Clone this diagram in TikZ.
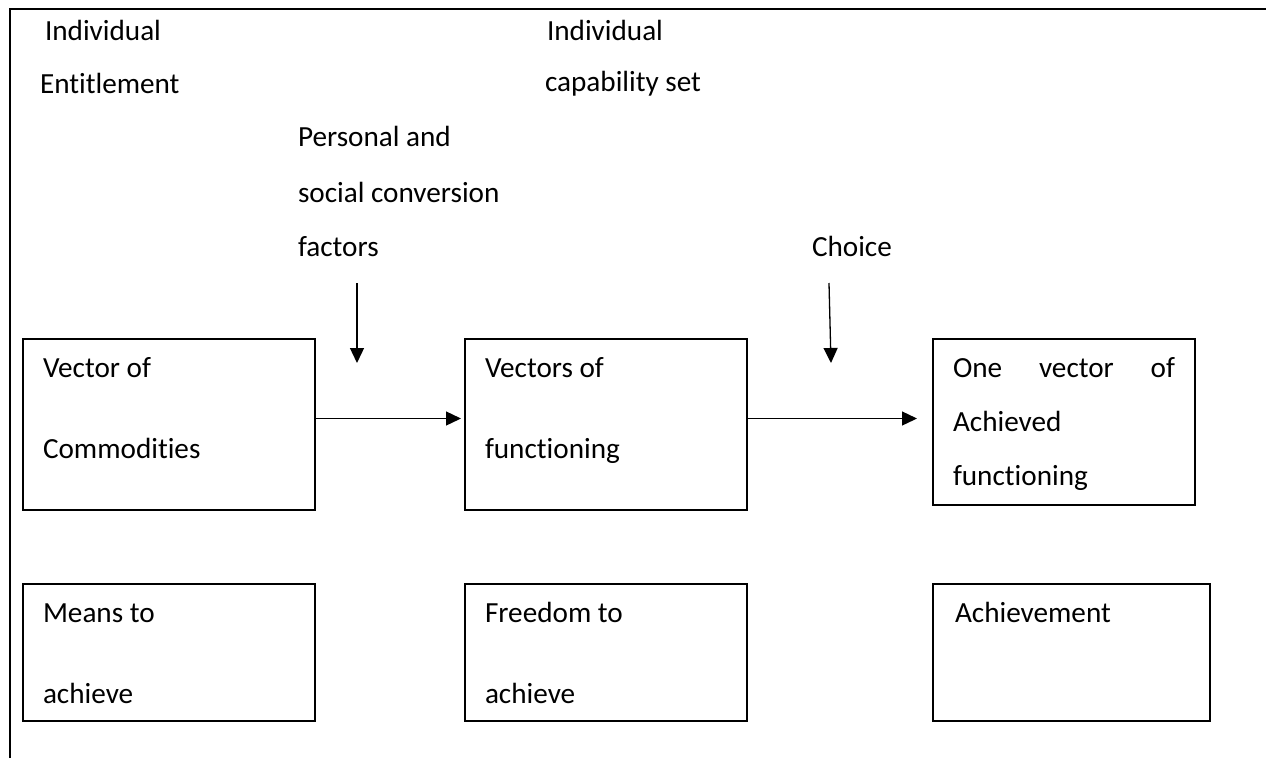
\documentclass[tikz,border=0pt]{standalone}
\usepackage{fontspec}
\setmainfont{Carlito}[Ligatures={NoCommon}]
\usetikzlibrary{arrows.meta}
\begin{document}
\begin{tikzpicture}[x=1pt,y=-1pt,
  box/.style={draw,line width=1.4pt,anchor=north west,inner sep=0pt,outer sep=0pt},
  txt/.style={anchor=base west,inner sep=0pt,outer sep=0pt,font=\fontsize{29.2}{34}\selectfont},
  arr/.style={line width=1.3pt,-{Triangle[length=15pt,width=14pt]}}]
\useasboundingbox (0,0) rectangle (1266,758);
% frame
\coordinate (fbl) at (10,758);
\coordinate (ftl) at (10,9);
\coordinate (ftr) at (1266,9);
\draw[line width=2.3pt] (fbl) -- (ftl) -- (ftr);
% boxes
\node[box,minimum width=292pt,minimum height=171pt] (b1) at (23,339) {};
\node[box,minimum width=282pt,minimum height=171pt] (b2) at (465,339) {};
\node[box,minimum width=262pt,minimum height=166pt] (b3) at (933,339) {};
\node[box,minimum width=292pt,minimum height=137pt] (ba) at (23,584) {};
\node[box,minimum width=282pt,minimum height=137pt] (bb) at (465,584) {};
\node[box,minimum width=277pt,minimum height=137pt] (bc) at (933,584) {};
% top labels
\node[txt] (t1) at (45,40) {Individual};
\node[txt] (t2) at (40,93) {Entitlement};
\node[txt] (t3) at (547,40) {Individual};
\node[txt] (t4) at (545,91) {capability set};
\node[txt] (t5) at (298,146) {Personal and};
\node[txt] (t6) at (298,202) {social conversion};
\node[txt] (t7) at (298,256) {factors};
\node[txt] (t8) at (812,256) {Choice};
% box texts
\node[txt] (x1) at (43,377) {Vector of};
\node[txt] (x2) at (43,458) {Commodities};
\node[txt] (x3) at (485,377) {Vectors of};
\node[txt] (x4) at (485,458) {functioning};
\node[txt] (x5) at (953,377) {\makebox[222pt][s]{One\hfill vector\hfill of}};
\node[txt] (x6) at (953,431) {Achieved};
\node[txt] (x7) at (953,485) {functioning};
\node[txt] (y1) at (43,622) {Means to};
\node[txt] (y2) at (43,703) {achieve};
\node[txt] (y3) at (485,622) {Freedom to};
\node[txt] (y4) at (485,703) {achieve};
\node[txt] (y5) at (955,622) {Achievement};
% connectors
\draw[arr,shorten >=4pt] ([yshift=6pt]b1.east) -- ([yshift=6pt]b1.east -| b2.west);
\draw[arr,shorten >=16pt] ([yshift=6pt]b2.east) -- ([yshift=6pt]b2.east -| b3.west);
\coordinate (d1s) at (357,283);
\coordinate (d1e) at (357,363);
\coordinate (d2s) at (829,283);
\coordinate (d2e) at (831,363);
\draw[arr] (d1s) -- (d1e);
\draw[arr] (d2s) -- (d2e);
\end{tikzpicture}
\end{document}
